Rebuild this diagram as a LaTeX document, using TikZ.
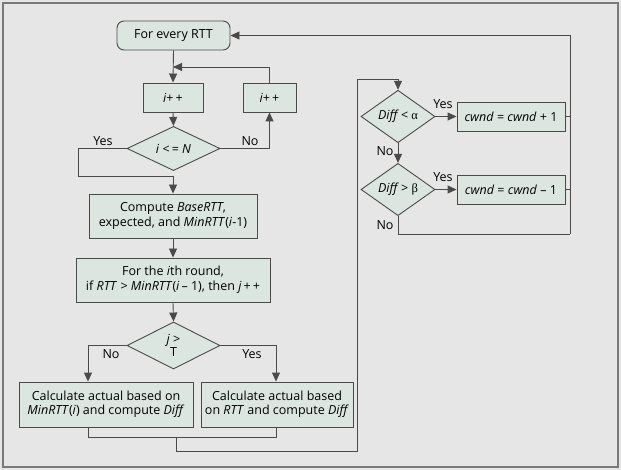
\documentclass[tikz,border=0pt]{standalone}
\usepackage{fontspec}
\setmainfont{Open Sans}
\newfontfamily\greekfont{Liberation Serif}
\usetikzlibrary{arrows.meta,shapes.geometric}
\definecolor{bgc}{HTML}{E6E6E6}
\definecolor{nodefill}{HTML}{DCE6E1}
\definecolor{linec}{HTML}{4A4A4A}
\definecolor{framec}{HTML}{7A7A7A}
\tikzset{
  base/.style={draw=linec, fill=nodefill, line width=0.9pt, inner sep=1pt, align=center, font=\fontsize{12.5}{14.5}\selectfont},
  boxnode/.style={base, rectangle},
  roundnode/.style={base, rectangle, rounded corners=7pt},
  decision/.style={base, diamond, inner sep=0pt},
  conn/.style={draw=linec, line width=0.9pt},
  arr/.style={conn, -{Triangle[length=9pt,width=8pt]}},
  lab/.style={font=\fontsize{12.5}{14.5}\selectfont, inner sep=1pt}
}
\begin{document}
\begin{tikzpicture}[x=1pt,y=-1pt]
\useasboundingbox (0,0) rectangle (621,470);
\fill[bgc] (0,0) rectangle (621,470);
\draw[framec, line width=2pt] (3,3) rectangle (618,467);

% nodes
\node[roundnode, minimum width=113pt, minimum height=29pt] (start) at (173.5,35.5) {For every RTT};
\node[boxnode, minimum width=60pt, minimum height=29pt] (inc1) at (173,97.5) {\textit{i}+\,+};
\node[boxnode, minimum width=53pt, minimum height=29pt] (inc2) at (269.5,97.5) {\textit{i}+\,+};
\node[decision, minimum width=93pt, minimum height=37pt] (d1) at (173.5,148.5) {\textit{i} <\,= \textit{N}};
\node[boxnode, minimum width=168pt, minimum height=44pt] (comp) at (173,216) {Compute \textit{BaseRTT},\\expected, and \textit{MinRTT}(\textit{i}-1)};
\node[boxnode, minimum width=194pt, minimum height=44pt] (round) at (173,280) {For the \textit{i}th round,\\if \textit{RTT} > \textit{MinRTT}(\textit{i}\,– 1), then \textit{j}\,+\,+};
\node[decision, minimum width=93pt, minimum height=47pt, font=\fontsize{12.5}{11}\selectfont] (d2) at (173.5,345.5) {\textit{j} >\\T};
\node[boxnode, minimum width=174pt, minimum height=45pt] (calcL) at (106,404.5) {Calculate actual based on\\\textit{MinRTT}(\textit{i}) and compute \textit{Diff}};
\node[boxnode, minimum width=152pt, minimum height=45pt] (calcR) at (277,404.5) {Calculate actual based\\on \textit{RTT} and compute \textit{Diff}};
\node[decision, minimum width=74pt, minimum height=37pt] (d3) at (398,116.5) {\textit{Diff}\,< {\greekfont α}};
\node[boxnode, minimum width=108pt, minimum height=29pt] (up) at (511,116.5) {\textit{cwnd} = \textit{cwnd} + 1};
\node[decision, minimum width=74pt, minimum height=37pt] (d4) at (398,189.5) {\textit{Diff}\,> {\greekfont β}};
\node[boxnode, minimum width=108pt, minimum height=29pt] (down) at (511,189.5) {\textit{cwnd} = \textit{cwnd} – 1};

% coordinates
\coordinate (fb) at (173,67);
\coordinate (yesA) at (78,148.5);
\coordinate (yesB) at (78,176);
\coordinate (yesC) at (173,176);
\coordinate (noL) at (88,345.5);
\coordinate (yesR) at (276,345.5);
\coordinate (mL) at (88,437);
\coordinate (mR) at (276,437);
\coordinate (mM) at (176,437);
\coordinate (mM2) at (176,451);
\coordinate (bR) at (357,451);
\coordinate (bT) at (357,79);
\coordinate (bT2) at (398,79);
\coordinate (loopB) at (398,234);
\coordinate (rB) at (570,234);
\coordinate (rT) at (570,35.5);
\coordinate (rU) at (570,116.5);
\coordinate (rD) at (570,189.5);

% connectors
\draw[arr] (start.south) -- (inc1.north);
\draw[arr] (inc2.north) |- (fb);
\draw[arr] (inc1.south) -- (d1.north);
\draw[arr] (d1.east) -| (inc2.south);
\node[lab] (lno1) at (250,141) {No};
\draw[conn] (d1.west) -- (yesA) -- (yesB) -- (yesC);
\draw[arr] (yesC) -- (comp.north);
\node[lab] (lyes1) at (103,141) {Yes};
\draw[arr] (comp.south) -- (round.north);
\draw[arr] (round.south) -- (d2.north);
\draw[arr] (d2.west) -- (noL) -- (noL |- calcL.north);
\node[lab] (lno2) at (111,354) {No};
\draw[arr] (d2.east) -- (yesR) -- (yesR |- calcR.north);
\node[lab] (lyes2) at (252,354) {Yes};
\draw[conn] (mL |- calcL.south) -- (mL) -- (mR) -- (mR |- calcR.south);
\draw[conn] (mM) -- (mM2) -- (bR) -- (bT) -- (bT2);
\draw[arr] (bT2) -- (d3.north);
\draw[arr] (d3.east) -- (up.west);
\node[lab] (lyes3) at (443,104) {Yes};
\draw[arr] (d3.south) -- (d4.north);
\node[lab] (lno3) at (385,151) {No};
\draw[arr] (d4.east) -- (down.west);
\node[lab] (lyes4) at (443,177.5) {Yes};
\draw[conn] (d4.south) -- (loopB) -- (rB);
\node[lab] (lno4) at (385,225) {No};
\draw[conn] (up.east) -- (rU);
\draw[conn] (down.east) -- (rD);
\draw[arr] (rB) -- (rT) -- (start.east);
\end{tikzpicture}
\end{document}
